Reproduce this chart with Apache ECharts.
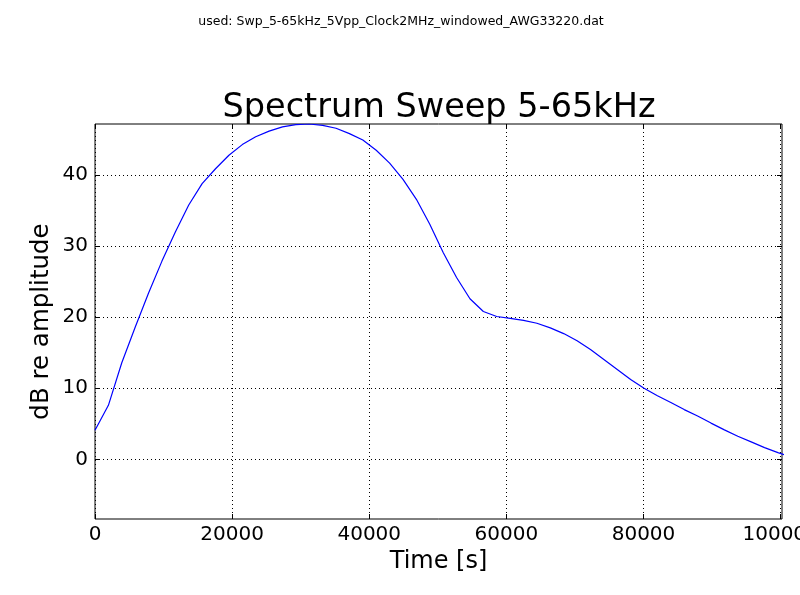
<!DOCTYPE html>
<html>
<head>
<meta charset="utf-8">
<script src="https://cdn.jsdelivr.net/npm/echarts@6/dist/echarts.min.js"></script>
<style>
  html, body { margin: 0; padding: 0; background: #fff; }
  #main { width: 800px; height: 595px; }
</style>
</head>
<body>
<div id="main"></div>
<script>
// spectrum sweep data (bin step ~1953 Hz)
var freqs = [0, 1953, 3906, 5859, 7813, 9766, 11719, 13672, 15625, 17578,
    19531, 21484, 23438, 25391, 27344, 29297, 31250, 33203, 35156, 37109,
    39063, 41016, 42969, 44922, 46875, 48828, 50781, 52734, 54688, 56641,
    58594, 60547, 62500, 64453, 66406, 68359, 70313, 72266, 74219, 76172,
    78125, 80078, 82031, 83984, 85938, 87891, 89844, 91797, 93750, 95703,
    97656, 99609, 101563];
var dB = [4.1, 7.6, 13.6, 18.6, 23.4, 27.9, 32.0, 35.8, 38.8, 40.9,
    42.8, 44.3, 45.4, 46.2, 46.8, 47.1, 47.2, 47.0, 46.6, 45.85,
    44.95, 43.5, 41.7, 39.4, 36.6, 33.1, 29.1, 25.6, 22.6, 20.8,
    20.1, 19.85, 19.55, 19.15, 18.5, 17.7, 16.7, 15.45, 14.05, 12.65,
    11.25, 10.0, 8.95, 8.0, 7.0, 6.1, 5.1, 4.15, 3.25, 2.45,
    1.65, 0.95, 0.3];
var xTicks = [0, 20000, 40000, 60000, 80000, 100000];
var yTicks = [0, 10, 20, 30, 40];

var myChart = echarts.init(document.getElementById('main'));

var font = 'DejaVu Sans';
var gridLine = { show: true, lineStyle: { color: '#000', width: 1, type: [1, 3] } };
var plain = function (v) { return String(v); };

var points = [];
for (var i = 0; i < freqs.length; i++) {
    points.push([freqs[i], dB[i]]);
}

option = {
    backgroundColor: '#fff',
    animation: false,
    textStyle: { fontFamily: font },
    title: [
        {
            text: 'used: Swp_5-65kHz_5Vpp_Clock2MHz_windowed_AWG33220.dat',
            left: 396,
            top: 10,
            textAlign: 'center',
            textStyle: { fontFamily: font, fontSize: 12.5, fontWeight: 'normal', color: '#000' }
        },
        {
            text: 'Spectrum Sweep 5-65kHz',
            left: 434,
            top: 86,
            textAlign: 'center',
            textStyle: { fontFamily: font, fontSize: 33.5, fontWeight: 'normal', color: '#000' }
        }
    ],
    grid: {
        left: 95,
        right: 18,
        top: 124,
        bottom: 76,
        show: true,
        borderColor: '#000',
        borderWidth: 1,
        containLabel: false,
        outerBoundsMode: 'none'
    },
    xAxis: [
        {
            type: 'value',
            min: 0,
            max: 100200,
            name: 'Time [s]',
            nameLocation: 'middle',
            nameGap: 31,
            nameTextStyle: { fontFamily: font, fontSize: 24, color: '#000' },
            axisLine: { show: false, onZero: false },
            axisTick: { show: true, inside: true, length: 5, customValues: xTicks, lineStyle: { color: '#000' } },
            axisLabel: { customValues: xTicks, formatter: plain, fontFamily: font, fontSize: 20, color: '#000', margin: 6 },
            splitLine: gridLine
        },
        {
            type: 'value',
            position: 'top',
            min: 0,
            max: 100200,
            axisLine: { show: false, onZero: false },
            axisTick: { show: true, inside: true, length: 5, customValues: xTicks, lineStyle: { color: '#000' } },
            axisLabel: { show: false },
            splitLine: { show: false }
        }
    ],
    yAxis: [
        {
            type: 'value',
            min: -8.4,
            max: 47.2,
            name: 'dB re amplitude',
            nameLocation: 'middle',
            nameGap: 41,
            nameMoveOverlap: false,
            nameRotate: 90,
            nameTextStyle: { fontFamily: font, fontSize: 24.5, color: '#000' },
            axisLine: { show: false, onZero: false },
            axisTick: { show: true, inside: true, length: 5, customValues: yTicks, lineStyle: { color: '#000' } },
            axisLabel: { customValues: yTicks, formatter: plain, fontFamily: font, fontSize: 20, color: '#000', margin: 7 },
            splitLine: gridLine
        },
        {
            type: 'value',
            position: 'right',
            min: -8.4,
            max: 47.2,
            axisLine: { show: false, onZero: false },
            axisTick: { show: true, inside: true, length: 5, customValues: yTicks, lineStyle: { color: '#000' } },
            axisLabel: { show: false },
            splitLine: { show: false }
        }
    ],
    series: [
        {
            name: 'spectrum',
            type: 'line',
            data: points,
            showSymbol: false,
            clip: true,
            lineStyle: { color: '#0000ff', width: 1.2 },
            itemStyle: { color: '#0000ff' }
        }
    ]
};

myChart.setOption(option);
</script>
</body>
</html>
